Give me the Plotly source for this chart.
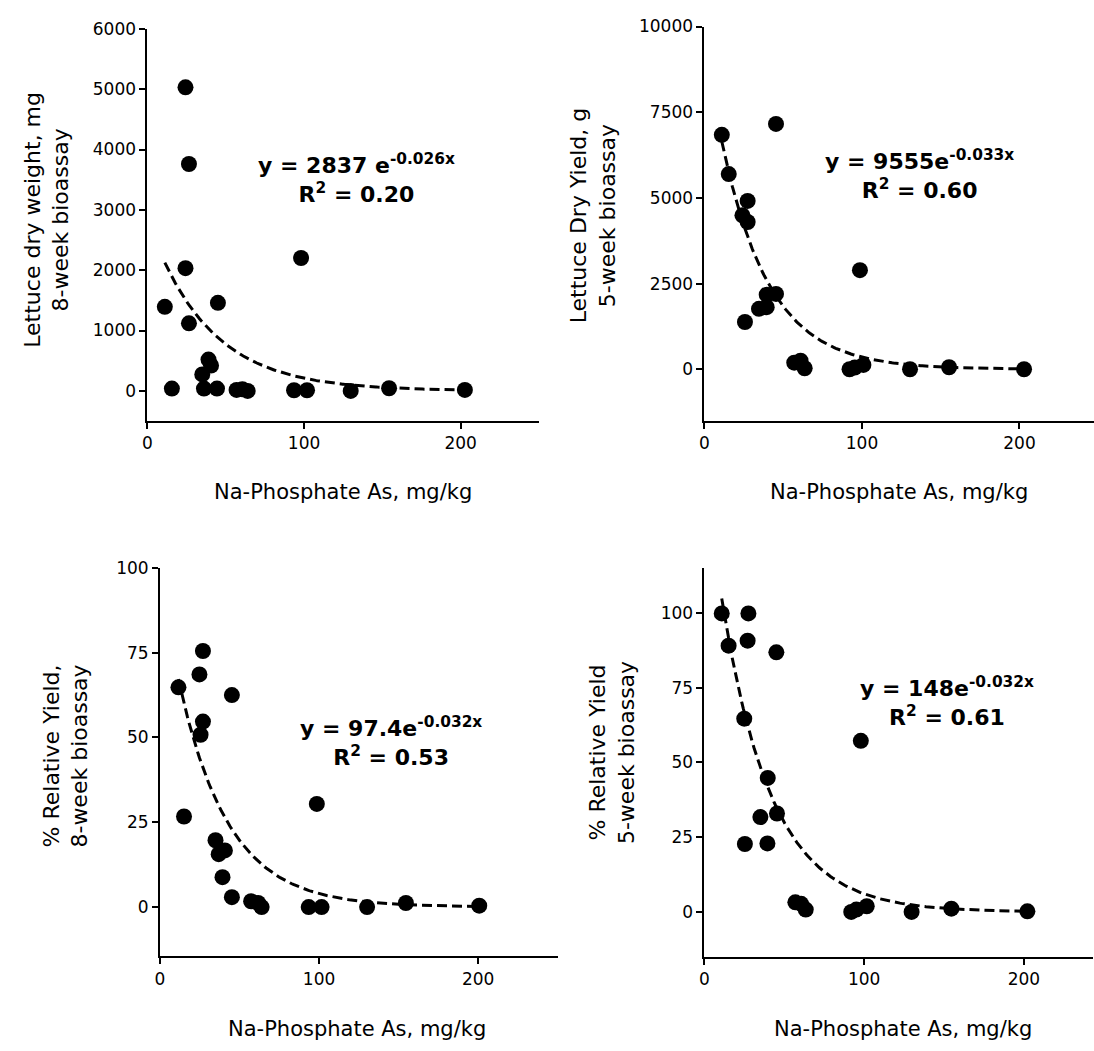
import numpy as np
import plotly.graph_objects as go

W, H = 1094, 1051

# Na-phosphate extractable As (mg/kg) and response, one set per panel
x_dw8 = [11.1, 15.6, 24.3, 24.3, 26.5, 26.5, 35.0, 36.1, 39.0, 40.6, 44.4, 45.0,
         56.9, 60.6, 64.0, 93.6, 98.1, 101.9, 129.8, 154.3, 202.7]
y_dw8 = [1393, 38, 5030, 2033, 3760, 1120, 273, 38, 519, 421, 38, 1459,
         16, 27, 0, 11, 2202, 11, 0, 44, 16]

x_dy5 = [11.0, 15.4, 24.1, 25.7, 27.4, 27.4, 34.6, 39.5, 39.5, 45.4, 45.4,
         57.0, 61.0, 63.6, 92.1, 95.4, 98.7, 100.9, 130.5, 155.3, 202.9]
y_dy5 = [6840, 5694, 4490, 1378, 4913, 4297, 1763, 2177, 1811, 7158, 2197,
         193, 250, 29, 0, 48, 2890, 125, 0, 58, 0]

x_ry8 = [11.6, 15.1, 24.8, 25.5, 27.0, 27.0, 34.9, 36.9, 39.3, 40.8, 45.2, 45.2,
         57.3, 61.7, 63.9, 93.5, 98.6, 101.6, 130.2, 154.6, 200.7]
y_ry8 = [64.8, 26.7, 68.6, 50.8, 75.5, 54.7, 19.7, 15.6, 8.8, 16.7, 62.5, 2.9,
         1.7, 1.2, 0.0, 0.0, 30.4, 0.0, 0.0, 1.2, 0.4]

x_ry5 = [10.8, 15.1, 24.9, 25.3, 27.0, 27.5, 35.0, 39.4, 39.6, 45.0, 45.4,
         56.9, 60.5, 63.4, 91.9, 95.1, 97.9, 101.6, 129.7, 154.6, 202.2]
y_ry5 = [99.8, 89.0, 64.6, 22.7, 90.7, 99.8, 31.7, 22.9, 44.8, 86.8, 32.9,
         3.2, 2.7, 0.8, 0.0, 0.8, 57.2, 1.9, 0.0, 1.1, 0.2]

# exponential fits y = a * exp(b * x)
fits = [(2837, -0.026), (9555, -0.033), (97.4, -0.032), (148, -0.032)]
eq_text = [
    "<b>y = 2837 e<sup>-0.026x</sup><br>R<sup>2</sup> = 0.20</b>",
    "<b>y = 9555e<sup>-0.033x</sup><br>R<sup>2</sup> = 0.60</b>",
    "<b>y = 97.4e<sup>-0.032x</sup><br>R<sup>2</sup> = 0.53</b>",
    "<b>y = 148e<sup>-0.032x</sup><br>R<sup>2</sup> = 0.61</b>",
]

y_titles = ["Lettuce dry weight, mg<br>8-week bioassay",
            "Lettuce Dry Yield, g<br>5-week bioassay",
            "% Relative Yield,<br>8-week bioassay",
            "% Relative Yield<br>5-week bioassay"]
x_title = "Na-Phosphate As, mg/kg"

y_ticks = [[0, 1000, 2000, 3000, 4000, 5000, 6000],
           [0, 2500, 5000, 7500, 10000],
           [0, 25, 50, 75, 100],
           [0, 25, 50, 75, 100]]
x_ticks = [0, 100, 200]

# panel geometry in pixels: (x_left, x_right, y_top, y_bottom), axis ranges
panels = [
    dict(px=(143.1, 536.4), py=(19.0, 415.0), xr=(0, 250), yr=(-500, 6000)),
    dict(px=(702.7, 1093.5), py=(16.7, 414.6), xr=(0, 247), yr=(-1500, 10000)),
    dict(px=(155.7, 555.2), py=(563.3, 955.3), xr=(0, 250), yr=(-14.5, 100)),
    dict(px=(702.7, 1093.0), py=(563.3, 955.9), xr=(0, 243.3), yr=(-15, 115)),
]
eq_pos = [(353, 170), (918.6, 166), (388, 739), (946, 698)]
ytitle_pos = [(42, 212), (591, 207), (61, 753), (610, 750)]
xtitle_pos = [(340, 487), (898, 487), (354, 1029), (902, 1029)]

series = [(x_dw8, y_dw8), (x_dy5, y_dy5), (x_ry8, y_ry8), (x_ry5, y_ry5)]

FONT = "DejaVu Sans"
fig = go.Figure()
layout = dict(width=W, height=H, margin=dict(l=0, r=0, t=0, b=0),
              paper_bgcolor="white", plot_bgcolor="white", showlegend=False,
              font=dict(family=FONT, color="black"))
annotations = []

for i, (p, (xs, ys)) in enumerate(zip(panels, series)):
    n = "" if i == 0 else str(i + 1)
    xa, ya = "x" + n, "y" + n
    a, b = fits[i]
    xf = np.linspace(min(xs), max(xs), 200)
    fig.add_trace(go.Scatter(x=xf, y=a * np.exp(b * xf), mode="lines",
                             line=dict(color="black", width=3, dash="10px,5px"),
                             xaxis=xa, yaxis=ya, hoverinfo="skip"))
    fig.add_trace(go.Scatter(x=xs, y=ys, mode="markers",
                             marker=dict(color="black", size=16),
                             xaxis=xa, yaxis=ya))
    common = dict(showgrid=False, zeroline=False, showline=True, linecolor="black",
                  linewidth=2, ticks="outside", ticklen=6, tickwidth=1.5,
                  tickcolor="black", tickfont=dict(family=FONT, size=17, color="black"))
    layout["xaxis" + n] = dict(domain=[p["px"][0] / W, p["px"][1] / W],
                               range=list(p["xr"]), tickvals=x_ticks,
                               ticktext=[str(v) for v in x_ticks],
                               anchor=ya, **common)
    layout["yaxis" + n] = dict(domain=[1 - p["py"][1] / H, 1 - p["py"][0] / H],
                               range=list(p["yr"]), tickvals=y_ticks[i],
                               ticktext=[str(v) for v in y_ticks[i]],
                               anchor=xa, **common)
    ex, ey = eq_pos[i]
    annotations.append(dict(text=eq_text[i], x=ex / W, y=1 - ey / H, xref="paper",
                            yref="paper", showarrow=False, align="center",
                            xanchor="center", yanchor="middle",
                            font=dict(family=FONT, size=22, color="black")))
    tx, ty = ytitle_pos[i]
    annotations.append(dict(text=y_titles[i], x=tx / W, y=1 - ty / H, xref="paper",
                            yref="paper", showarrow=False, textangle=-90,
                            xanchor="center", yanchor="middle", align="center",
                            font=dict(family=FONT, size=22, color="black")))
    hx, hy = xtitle_pos[i]
    annotations.append(dict(text=x_title, x=hx / W, y=1 - hy / H, xref="paper",
                            yref="paper", showarrow=False,
                            xanchor="center", yanchor="middle",
                            font=dict(family=FONT, size=21, color="black")))

layout["annotations"] = annotations
fig.update_layout(**layout)
fig.write_html("out.html")
